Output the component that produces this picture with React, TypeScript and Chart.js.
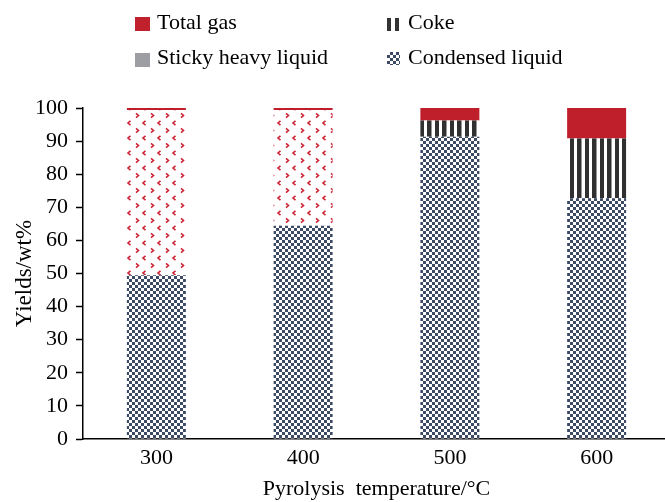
import React, { useEffect, useRef } from 'react';
import { Chart, registerables } from 'chart.js';

Chart.register(...registerables);

const categories = ['300', '400', '500', '600'];
const condensedLiquid = [49.5, 64.4, 91.3, 72.7];
const stickyHeavyLiquid = [49.9, 35.0, 0, 0];
const coke = [0, 0, 4.9, 18.1];
const totalGas = [0.6, 0.6, 3.8, 9.2];

const FONT = '"Liberation Serif", "Times New Roman", serif';

function makePattern(w: number, h: number, draw: (g: CanvasRenderingContext2D) => void) {
  const c = document.createElement('canvas');
  c.width = w;
  c.height = h;
  const g = c.getContext('2d') as CanvasRenderingContext2D;
  draw(g);
  return g.createPattern(c, 'repeat') as CanvasPattern;
}

function checkerPattern() {
  return makePattern(6, 6, (g) => {
    g.fillStyle = '#ffffff';
    g.fillRect(0, 0, 6, 6);
    g.fillStyle = '#3d4a66';
    g.fillRect(0, 0, 3, 3);
    g.fillRect(3, 3, 3, 3);
  });
}

function stripePattern() {
  return makePattern(15, 4, (g) => {
    g.fillStyle = '#ffffff';
    g.fillRect(0, 0, 15, 4);
    g.fillStyle = '#303030';
    g.fillRect(0, 0, 4, 4);
    g.fillRect(7, 0, 4.5, 4);
  });
}

function chevronPattern() {
  return makePattern(15, 15, (g) => {
    g.fillStyle = '#ffffff';
    g.fillRect(0, 0, 15, 15);
    g.strokeStyle = '#cc2434';
    g.lineWidth = 1.6;
    // '<'
    g.beginPath();
    g.moveTo(10.5, 0.8);
    g.lineTo(8, 3);
    g.lineTo(10.5, 5.2);
    g.stroke();
    // '>'
    g.beginPath();
    g.moveTo(1, 8.3);
    g.lineTo(3.5, 10.5);
    g.lineTo(1, 12.7);
    g.stroke();
  });
}

export default function App() {
  const ref = useRef<HTMLCanvasElement | null>(null);

  useEffect(() => {
    document.body.style.margin = '0';
    const canvas = ref.current;
    if (!canvas) return;
    const chart = new Chart(canvas, {
      type: 'bar',
      data: {
        labels: categories,
        datasets: [
          { label: 'Condensed liquid', data: condensedLiquid, backgroundColor: checkerPattern(), borderWidth: 0 },
          { label: 'Sticky heavy liquid', data: stickyHeavyLiquid, backgroundColor: chevronPattern(), borderWidth: 0 },
          { label: 'Coke', data: coke, backgroundColor: stripePattern(), borderWidth: 0 },
          { label: 'Total gas', data: totalGas, backgroundColor: '#be1f2b', borderWidth: 0 },
        ],
      },
      options: {
        responsive: false,
        animation: false,
        devicePixelRatio: 1,
        layout: { padding: { top: 108, right: 2, left: 0, bottom: 0 } },
        datasets: { bar: { categoryPercentage: 1, barPercentage: 0.402 } },
        plugins: { legend: { display: false }, tooltip: { enabled: false } },
        scales: {
          x: {
            stacked: true,
            grid: { display: false, drawTicks: false },
            border: { display: true, color: '#000', width: 1.5 },
            ticks: { color: '#000', padding: 6, font: { family: FONT, size: 22 } },
            title: {
              display: true,
              text: 'Pyrolysis  temperature/°C',
              color: '#000',
              padding: { top: 0, bottom: 0 },
              font: { family: FONT, size: 22 },
            },
            afterFit: (s: any) => {
              s.height = 63;
            },
          },
          y: {
            stacked: true,
            min: 0,
            max: 100,
            grid: { drawOnChartArea: false, drawTicks: true, tickLength: 7, color: '#000', tickWidth: 1.5 },
            border: { display: true, color: '#000', width: 1.5 },
            ticks: { stepSize: 10, color: '#000', padding: 8, font: { family: FONT, size: 22 } },
            title: {
              display: true,
              text: 'Yields/wt%',
              color: '#000',
              padding: { top: 11, bottom: 0 },
              font: { family: FONT, size: 23 },
            },
            afterFit: (s: any) => {
              s.width = 83;
            },
          },
        },
      },
    });
    return () => chart.destroy();
  }, []);

  const text: React.CSSProperties = {
    position: 'absolute',
    fontFamily: FONT,
    fontSize: 22,
    lineHeight: '22px',
    color: '#000',
    whiteSpace: 'nowrap',
  };
  const box = (s: React.CSSProperties): React.CSSProperties => ({ position: 'absolute', ...s });

  return (
    <div style={{ position: 'fixed', left: 0, top: 0, width: 665, height: 502, overflow: 'hidden', background: '#fff' }}>
      <canvas ref={ref} width={672} height={502} style={{ width: 672, height: 502, display: 'block' }} />
      <div style={box({ left: 135, top: 17, width: 15, height: 14, background: '#c0212d' })} />
      <div style={{ ...text, left: 157, top: 11 }}>Total gas</div>
      <div style={box({ left: 387, top: 18, width: 4, height: 13, background: '#333' })} />
      <div style={box({ left: 395, top: 18, width: 4, height: 13, background: '#333' })} />
      <div style={{ ...text, left: 408, top: 11 }}>Coke</div>
      <div style={box({ left: 135, top: 53, width: 15, height: 14, background: '#9c9ea3' })} />
      <div style={{ ...text, left: 157, top: 46 }}>Sticky heavy liquid</div>
      <div
        style={box({
          left: 387,
          top: 52,
          width: 13,
          height: 13,
          background: 'repeating-conic-gradient(#3d4a66 0% 25%, #ffffff 0% 50%) 0 0 / 6px 6px',
        })}
      />
      <div style={{ ...text, left: 408, top: 46 }}>Condensed liquid</div>
    </div>
  );
}
